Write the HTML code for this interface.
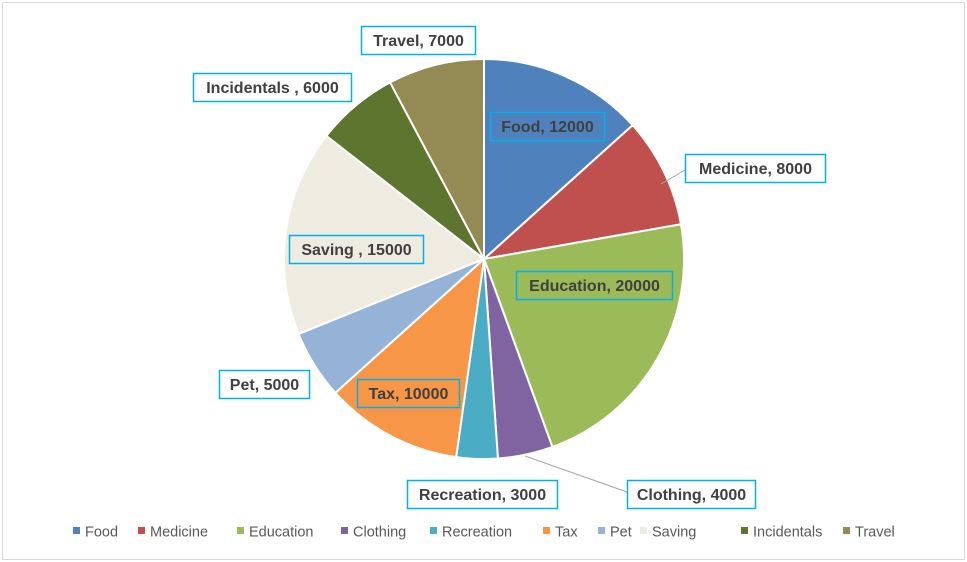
<!DOCTYPE html>
<html><head><meta charset="utf-8">
<style>
body{margin:0;background:#fff;width:967px;height:562px;overflow:hidden;font-family:"Liberation Sans",sans-serif;}
svg{display:block}
</style></head>
<body>
<svg id="chart" width="967" height="562">
<rect x="2.5" y="2.5" width="962" height="557" fill="#fff" stroke="#d9d9d9"/>
<g id="slices"></g>
<g id="leaders"></g>
<g id="labels"></g>
<g id="legend"></g>
</svg>
<script>
const categories=["Food","Medicine","Education","Clothing","Recreation","Tax","Pet","Saving","Incidentals","Travel"];
const values=[12000,8000,20000,4000,3000,10000,5000,15000,6000,7000];
const labelTexts=["Food, 12000","Medicine, 8000","Education, 20000","Clothing, 4000","Recreation, 3000","Tax, 10000","Pet, 5000","Saving , 15000","Incidentals , 6000","Travel, 7000"];
const colors=["#4f81bd","#c0504d","#9bbb59","#8064a2","#4bacc6","#f79646","#95b3d7","#eeece1","#5e7530","#948a54"];
const NS="http://www.w3.org/2000/svg";
const cx=484,cy=259,r=200;
const total=values.reduce((a,b)=>a+b,0);
function pt(a,rr){return [cx+rr*Math.sin(a),cy-rr*Math.cos(a)];}
const gS=document.getElementById('slices');
let acc=0;
values.forEach((v,i)=>{
  const a0=acc/total*2*Math.PI; acc+=v; const a1=acc/total*2*Math.PI;
  const p0=pt(a0,r),p1=pt(a1,r);
  const large=(a1-a0)>Math.PI?1:0;
  const p=document.createElementNS(NS,'path');
  p.setAttribute('d',`M${cx},${cy}L${p0[0]},${p0[1]}A${r},${r} 0 ${large} 1 ${p1[0]},${p1[1]}Z`);
  p.setAttribute('fill',colors[i]);p.setAttribute('stroke','#fff');p.setAttribute('stroke-width','2');
  
  
  gS.appendChild(p);
});
// label box positions (layout only)
const boxes=[[490,112,114,inside=true],[685,154,140,false],[516,271,156,true],[627,480,128,false],[407,480,150,false],[357,379,102,true],[219,370,90,false],[289,235,134,true],[193,73,158,false],[361,26,114,false]];
const gL=document.getElementById('labels');
boxes.forEach((b,i)=>{
  const g=document.createElementNS(NS,'g');
  
  
  const rc=document.createElementNS(NS,'rect');
  rc.setAttribute('x',b[0]+0.5);rc.setAttribute('y',b[1]+0.5);rc.setAttribute('width',b[2]);rc.setAttribute('height',28);
  rc.setAttribute('fill',b[3]?'none':'#fff');rc.setAttribute('stroke','#00b0f0');rc.setAttribute('stroke-width','1.5');
  g.appendChild(rc);
  const t=document.createElementNS(NS,'text');
  t.setAttribute('x',b[0]+b[2]/2+0.5);t.setAttribute('y',b[1]+20);t.setAttribute('text-anchor','middle');
  t.setAttribute('font-size','16');t.setAttribute('font-weight','bold');t.setAttribute('fill','#404040');
  t.textContent=labelTexts[i];
  g.appendChild(t);
  gL.appendChild(g);
});
const gLd=document.getElementById('leaders');
[[685,170,661,184,'leader-medicine'],[627,492,525,456,'leader-clothing']].forEach(l=>{
  const ln=document.createElementNS(NS,'line');
  ln.setAttribute('x1',l[0]);ln.setAttribute('y1',l[1]);ln.setAttribute('x2',l[2]);ln.setAttribute('y2',l[3]);
  ln.setAttribute('stroke','#a6a6a6');ln.setAttribute('stroke-width','1');
  
  
  gLd.appendChild(ln);
});
const legX=[73,138,237,341,430,543,598,640,741,843];
const gG=document.getElementById('legend');
categories.forEach((c,i)=>{
  const g=document.createElementNS(NS,'g');
  
  
  const s=document.createElementNS(NS,'rect');
  s.setAttribute('x',legX[i]);s.setAttribute('y',527);s.setAttribute('width',7);s.setAttribute('height',7);s.setAttribute('fill',colors[i]);
  g.appendChild(s);
  const t=document.createElementNS(NS,'text');
  t.setAttribute('x',legX[i]+12);t.setAttribute('y',536.5);t.setAttribute('font-size','14.5');t.setAttribute('fill','#595959');
  t.textContent=c;
  g.appendChild(t);
  gG.appendChild(g);
});
</script>
</body></html>
